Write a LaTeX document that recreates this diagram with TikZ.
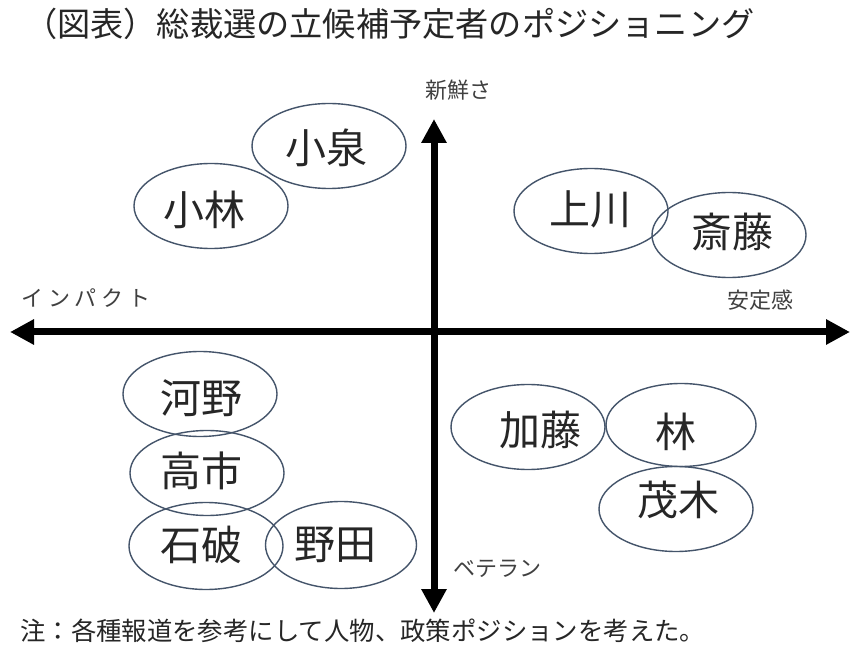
\documentclass[tikz,border=0pt]{standalone}
\usepackage{fontspec}
\setmainfont{Noto Sans CJK JP}
\usetikzlibrary{arrows.meta,shapes.geometric}
\definecolor{ellc}{HTML}{44546A}
\definecolor{txt}{HTML}{262626}
\definecolor{lbl}{HTML}{404040}
\begin{document}
\begin{tikzpicture}[x=1pt,y=-1pt,
  ell/.style={draw=ellc,line width=1.4pt,ellipse,minimum width=154pt,minimum height=85pt,inner sep=0pt},
  pname/.style={text=txt,font=\fontsize{41}{41}\selectfont,inner sep=0pt},
  axlbl/.style={text=lbl,font=\fontsize{22}{22}\selectfont,inner sep=0pt},
  axis/.style={line width=7pt,{Triangle[width=24pt,length=24pt]}-{Triangle[width=24pt,length=24pt]}}]
\useasboundingbox (0,0) rectangle (863,663);
\fill[white] (0,0) rectangle (863,663);
% title
\node[anchor=west,text=txt,font=\fontsize{33.2}{34}\selectfont,inner sep=0pt] (title) at (24,24) {（図表）総裁選の立候補予定者のポジショニング};
% axes
\coordinate (top) at (434,119);
\coordinate (bot) at (434,613);
\coordinate (left) at (10,332);
\coordinate (right) at (850,332);
\draw[axis] (bot) -- (top);
\draw[axis] (left) -- (right);
\node[axlbl] (l1) at (458,90) {新鮮さ};
\node[axlbl] (l2) at (86,298) {イ ン パ ク ト};
\node[axlbl] (l3) at (760,300) {安定感};
\node[axlbl] (l4) at (497,569) {ベテラン};
% ellipses
\node[ell] (koizumi) at (329,146) {};
\node[ell] (kobayashi) at (211,206) {};
\node[ell] (kamikawa) at (591,211) {};
\node[ell] (saito) at (729,235) {};
\node[ell] (kono) at (200,394) {};
\node[ell] (kato) at (528,427) {};
\node[ell,minimum width=150pt,minimum height=83pt] (hayashi) at (681,425) {};
\node[ell] (takaichi) at (207,473) {};
\node[ell] (motegi) at (676,509) {};
\node[ell,minimum height=87pt] (ishiba) at (206,546) {};
\node[ell,minimum width=151pt,minimum height=87pt] (noda) at (341,545) {};
% names
\node[pname] (t1) at (326,148) {小泉};
\node[pname] (t2) at (204,210) {小林};
\node[pname] (t3) at (590,209) {上川};
\node[pname] (t4) at (732,232) {斎藤};
\node[pname] (t5) at (201,398) {河野};
\node[pname] (t6) at (540,430) {加藤};
\node[pname] (t7) at (676,432) {林};
\node[pname] (t8) at (201,471) {高市};
\node[pname] (t9) at (678,500) {茂木};
\node[pname] (t10) at (201,545) {石破};
\node[pname] (t11) at (335,545) {野田};
% note
\node[anchor=west,text=txt,font=\fontsize{25.4}{26}\selectfont,inner sep=0pt] (note) at (20,631) {注：各種報道を参考にして人物、政策ポジションを考えた。};
\end{tikzpicture}
\end{document}
